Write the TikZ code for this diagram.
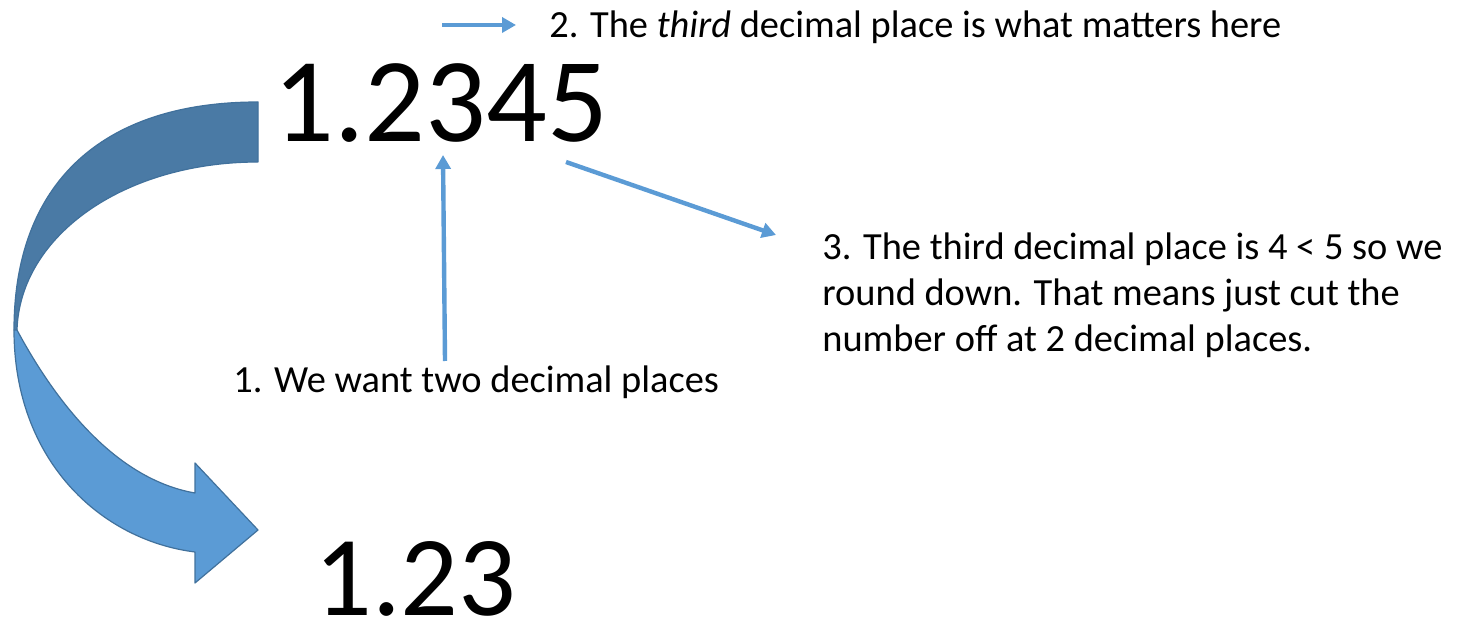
\documentclass[tikz,border=0pt]{standalone}
\usepackage{fontspec}
\setmainfont{Carlito}
\usetikzlibrary{arrows.meta}
\definecolor{pblue}{HTML}{5B9BD5}
\definecolor{pdark}{HTML}{4A7AA5}
\definecolor{pline}{HTML}{41719C}
\begin{document}
\begin{tikzpicture}[x=0.5pt,y=-0.5pt,
  conn/.style={pblue, line width=2.2pt, -{Triangle[length=7pt,width=7.5pt]}},
  lbl/.style={anchor=base west, inner sep=0pt, font=\fontsize{19.2}{23}\selectfont},
  big/.style={anchor=base west, inner sep=0pt, font=\fontsize{60}{60}\selectfont},
  ribbon/.style={draw=pline, line width=0.6pt, line join=round}]
\useasboundingbox (0,0) rectangle (1470,624);
% curved arrow: back (dark) half
\path[ribbon, fill=pdark] (258,102) .. controls (100,102) and (14,185) .. (14,330)
  -- (17,330) .. controls (20,235) and (125,162) .. (258,162) -- cycle;
% front (light) half with head
\path[ribbon, fill=pblue] (14,330) .. controls (14,460) and (100,540) .. (195,552)
  -- (195,583) -- (258,530) -- (195,463) -- (195,493)
  .. controls (120,480) and (60,410) .. (17,330) -- cycle;
% numbers
\node[big] (num) at (273,142) {1.2345};
\node[big, font=\fontsize{57}{57}\selectfont] (res) at (314,615) {1.23};
% labels
\node[lbl] (t2) at (549,38) {2. The \textit{third} decimal place is what matters here};
\node[lbl] (t1) at (233,393) {1. We want two decimal places};
\node[lbl] (t3a) at (822,260) {3. The third decimal place is 4 < 5 so we};
\node[lbl] (t3b) at (822,306) {round down. That means just cut the};
\node[lbl] (t3c) at (822,352) {number off at 2 decimal places.};
% connectors
\coordinate (a2s) at (442,25);
\coordinate (a2e) at (516,25);
\coordinate (a1s) at (445,361);
\coordinate (a1e) at (443,155);
\coordinate (a3s) at (566,162);
\coordinate (a3e) at (776,235);
\draw[conn] (a2s) -- (a2e);
\draw[conn] (a1s) -- (a1e);
\draw[conn] (a3s) -- (a3e);
\end{tikzpicture}
\end{document}
